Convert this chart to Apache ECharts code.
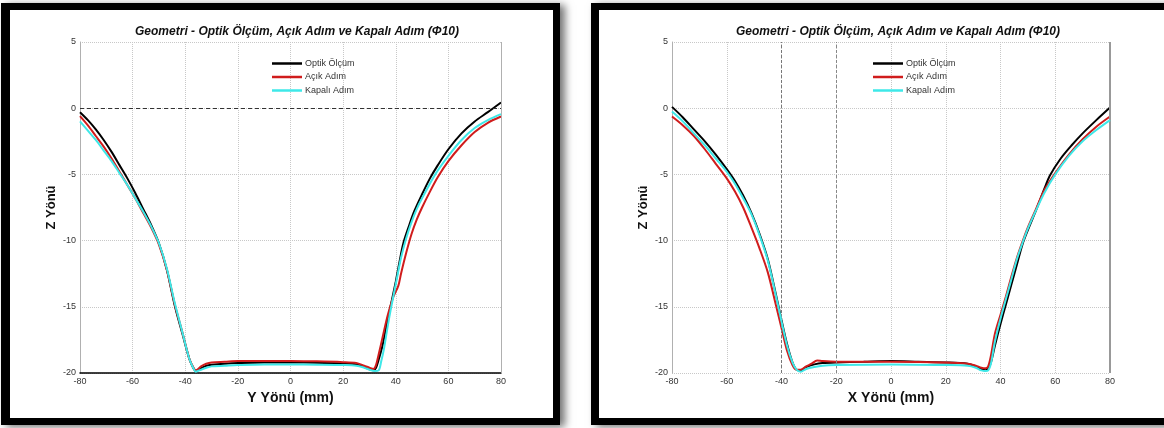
<!DOCTYPE html>
<html>
<head>
<meta charset="utf-8">
<script src="https://cdn.jsdelivr.net/npm/echarts@6/dist/echarts.min.js"></script>
<style>
html,body{margin:0;padding:0;background:#fff;}
#c{width:1164px;height:428px;}
</style>
</head>
<body>
<div id="c"></div>
<script>
// ---- data ----
const titleText = 'Geometri - Optik Ölçüm, Açık Adım ve Kapalı Adım (Φ10)';
const seriesNames = ['Optik Ölçüm', 'Açık Adım', 'Kapalı Adım'];
const xTicks = {min: -80, max: 80, step: 20};
const zTicks = {min: -20, max: 5, step: 5};

// Left panel: Y Yönü
const leftOptik = [[-80,-0.3],[-77,-0.9],[-74,-1.6],[-71,-2.4],[-68,-3.3],[-65,-4.3],[-62,-5.3],[-59,-6.4],[-56,-7.6],[-53,-8.8],[-50,-10.2],[-47,-12.2],[-44,-14.9],[-41,-17.1],[-38.5,-18.9],[-37,-19.6],[-36,-19.85],[-34,-19.65],[-32,-19.45],[-30,-19.38],[-25,-19.3],[-20,-19.25],[-10,-19.2],[0,-19.2],[10,-19.22],[20,-19.28],[25,-19.35],[28,-19.55],[30,-19.72],[31.5,-19.8],[32.5,-19.6],[33.5,-19.0],[35,-17.9],[36,-16.9],[38,-15.0],[40,-13.1],[42,-11.0],[43,-10.1],[45,-8.9],[47,-7.8],[50,-6.5],[53,-5.3],[56,-4.3],[60,-3.1],[65,-1.9],[70,-1.0],[75,-0.3],[80,0.43]];
const leftAcik = [[-80,-0.6],[-77,-1.3],[-74,-2.1],[-71,-2.9],[-68,-3.8],[-65,-4.8],[-62,-5.8],[-59,-6.8],[-56,-7.9],[-53,-9.0],[-50,-10.3],[-47,-12.2],[-44,-14.8],[-41,-17.0],[-38.5,-18.9],[-37,-19.55],[-36,-19.8],[-34,-19.5],[-32,-19.3],[-30,-19.2],[-25,-19.15],[-20,-19.1],[-10,-19.1],[0,-19.1],[10,-19.12],[20,-19.18],[25,-19.25],[28,-19.45],[30,-19.6],[31.5,-19.7],[32.5,-19.4],[33.5,-18.6],[35,-17.3],[37,-15.6],[39,-14.3],[41,-13.4],[42,-12.5],[44,-10.9],[46,-9.5],[48,-8.4],[50,-7.5],[53,-6.3],[56,-5.2],[60,-4.0],[65,-2.8],[70,-1.8],[75,-1.1],[80,-0.63]];
const leftKapali = [[-80,-1.0],[-77,-1.7],[-74,-2.4],[-71,-3.2],[-68,-4.0],[-65,-4.9],[-62,-5.8],[-59,-6.8],[-56,-7.8],[-53,-8.9],[-50,-10.2],[-47,-12.1],[-44,-14.7],[-41,-17.0],[-38.5,-18.9],[-37,-19.6],[-36,-19.9],[-34,-19.75],[-32,-19.6],[-30,-19.5],[-25,-19.45],[-20,-19.4],[-10,-19.35],[0,-19.35],[10,-19.37],[20,-19.4],[25,-19.45],[28,-19.6],[30,-19.75],[32,-19.85],[33.5,-19.8],[34.5,-19.1],[35.5,-18.2],[37,-16.4],[38,-15.3],[40,-13.3],[42,-11.3],[44,-9.8],[46,-8.6],[48,-7.6],[50,-6.8],[55,-5.0],[60,-3.6],[65,-2.4],[70,-1.5],[75,-0.9],[80,-0.45]];

// Right panel: X Yönü
const rightOptik = [[-80,0.1],[-76,-0.7],[-72,-1.6],[-68,-2.5],[-64,-3.5],[-60,-4.6],[-57,-5.5],[-54,-6.6],[-51,-7.9],[-48,-9.5],[-45,-11.4],[-42,-14.1],[-40,-16.0],[-38,-17.8],[-36,-19.2],[-34.5,-19.75],[-33,-19.8],[-31,-19.55],[-28,-19.35],[-25,-19.25],[-20,-19.2],[-10,-19.15],[0,-19.1],[10,-19.15],[20,-19.2],[28,-19.3],[31,-19.5],[33,-19.7],[34.5,-19.8],[35.5,-19.65],[36.5,-19.2],[38,-17.9],[40,-16.3],[42,-14.8],[44,-13.3],[46,-11.8],[48,-10.3],[50,-9.2],[53,-7.7],[56,-6.1],[58,-5.1],[62,-3.8],[66,-2.8],[70,-1.9],[75,-0.9],[80,0.05]];
const rightAcik = [[-80,-0.63],[-76,-1.3],[-72,-2.1],[-68,-3.1],[-64,-4.2],[-60,-5.3],[-57,-6.3],[-54,-7.5],[-51,-9.0],[-48,-10.6],[-45,-12.4],[-42,-14.9],[-40,-16.6],[-38,-18.3],[-36,-19.4],[-34.5,-19.75],[-33,-19.75],[-31,-19.5],[-29,-19.3],[-27,-19.05],[-25,-19.1],[-20,-19.15],[0,-19.15],[20,-19.2],[28,-19.3],[31,-19.45],[33,-19.6],[34.5,-19.65],[35.5,-19.5],[36.5,-18.7],[38,-17.0],[40,-15.6],[42,-14.2],[44,-12.7],[46,-11.3],[48,-10.1],[50,-9.0],[53,-7.6],[56,-6.2],[60,-4.9],[65,-3.5],[70,-2.35],[75,-1.4],[80,-0.63]];
const rightKapali = [[-80,-0.25],[-76,-1.0],[-72,-1.9],[-68,-2.8],[-64,-3.8],[-60,-4.8],[-57,-5.7],[-54,-6.8],[-51,-8.0],[-48,-9.6],[-45,-11.5],[-42,-14.2],[-40,-16.1],[-38,-17.9],[-36,-19.2],[-34.5,-19.75],[-33,-19.9],[-31,-19.7],[-28,-19.55],[-25,-19.45],[-20,-19.4],[0,-19.35],[20,-19.4],[28,-19.45],[31,-19.6],[33,-19.8],[34.5,-19.85],[35.5,-19.8],[36.5,-19.3],[38,-17.6],[40,-15.9],[42,-14.4],[44,-12.9],[46,-11.4],[48,-10.2],[50,-9.1],[53,-7.7],[56,-6.4],[60,-5.0],[65,-3.6],[70,-2.5],[75,-1.65],[80,-0.9]];

const colors = ['#000000', '#d01c1c', '#3ee8e8'];
const font = '"Liberation Sans", Arial, sans-serif';

function xAxisOf(gi, name, showLine) {
  return {
    gridIndex: gi, type: 'value', min: xTicks.min, max: xTicks.max, interval: xTicks.step,
    name: name, nameLocation: 'middle', nameGap: 13,
    nameTextStyle: {fontFamily: font, fontWeight: 'bold', fontSize: 14, color: '#111'},
    axisLine: {show: showLine, onZero: false, lineStyle: {color: '#000', width: 1.5}},
    axisTick: {show: false},
    axisLabel: {fontFamily: font, fontSize: 9, color: '#333', margin: 4},
    splitLine: {show: true, lineStyle: {color: '#c8c8c8', type: 'dotted', width: 1}}
  };
}
function yAxisOf(gi, gap) {
  return {
    gridIndex: gi, type: 'value', min: zTicks.min, max: zTicks.max, interval: zTicks.step,
    name: 'Z Yönü', nameLocation: 'middle', nameRotate: 90, nameGap: gap,
    nameTextStyle: {fontFamily: font, fontWeight: 'bold', fontSize: 13, color: '#111'},
    axisLine: {show: true, onZero: false, lineStyle: {color: '#b0b0b0', width: 1}},
    axisTick: {show: false},
    axisLabel: {fontFamily: font, fontSize: 9, color: '#333', margin: 4},
    splitLine: {show: true, lineStyle: {color: '#c8c8c8', type: 'dotted', width: 1}}
  };
}
function lineSeries(name, data, gi, idx, markLines) {
  const s = {
    name: name, type: 'line', xAxisIndex: gi, yAxisIndex: gi, data: data,
    symbol: 'none', showSymbol: false, smooth: 0.3, lineStyle: {color: colors[idx], width: 2},
    itemStyle: {color: colors[idx]}, z: 3 + idx, silent: true
  };
  if (markLines) {
    s.markLine = {silent: true, symbol: 'none', label: {show: false}, animation: false, data: markLines};
  }
  return s;
}
function legendOf(left) {
  return {
    orient: 'vertical', left: left, top: 53, icon: 'rect', itemWidth: 30, itemHeight: 2.5, itemGap: 2.5,
    data: seriesNames, selectedMode: false,
    textStyle: {fontFamily: font, fontSize: 9, lineHeight: 11, color: '#333', padding: [0, 0, 0, -2]}
  };
}

const option = {
  animation: false,
  backgroundColor: '#fff',
  graphic: [
    {type: 'rect', z: -20, shape: {x: 1, y: 3, width: 559, height: 422}, style: {fill: '#000', shadowBlur: 8, shadowOffsetX: 5, shadowOffsetY: 2, shadowColor: 'rgba(0,0,0,0.55)'}},
    {type: 'rect', z: -19, shape: {x: 10, y: 10, width: 543, height: 408}, style: {fill: '#fff'}},
    {type: 'rect', z: -20, shape: {x: 591, y: 3, width: 590, height: 422}, style: {fill: '#000', shadowBlur: 8, shadowOffsetX: 5, shadowOffsetY: 2, shadowColor: 'rgba(0,0,0,0.55)'}},
    {type: 'rect', z: -19, shape: {x: 599, y: 10, width: 570, height: 408}, style: {fill: '#fff'}}
  ],
  title: [
    {text: titleText, left: 292, top: 21, textAlign: 'center', textStyle: {fontFamily: font, fontSize: 12, fontWeight: 'bold', fontStyle: 'italic', color: '#111'}},
    {text: titleText, left: 893, top: 21, textAlign: 'center', textStyle: {fontFamily: font, fontSize: 12, fontWeight: 'bold', fontStyle: 'italic', color: '#111'}}
  ],
  legend: [legendOf(267), legendOf(868)],
  grid: [
    {left: 80, right: 1164 - 501, top: 42, bottom: 428 - 373},
    {left: 672, right: 1164 - 1110, top: 42, bottom: 428 - 373}
  ],
  xAxis: [xAxisOf(0, 'Y Yönü (mm)', true), xAxisOf(1, 'X Yönü (mm)', false)],
  yAxis: [yAxisOf(0, 22), yAxisOf(1, 22)],
  series: [
    lineSeries(seriesNames[0], leftOptik, 0, 0, [
      {yAxis: 0, lineStyle: {type: [4, 3], color: '#333', width: 1}},
      {xAxis: 80, lineStyle: {type: 'solid', color: '#b0b0b0', width: 1}}
    ]),
    lineSeries(seriesNames[1], leftAcik, 0, 1),
    lineSeries(seriesNames[2], leftKapali, 0, 2),
    lineSeries(seriesNames[0], rightOptik, 1, 0, [
      {xAxis: -40, lineStyle: {type: [3, 2], color: '#777', width: 1}},
      {xAxis: -20, lineStyle: {type: [3, 2], color: '#888', width: 1}},
      {xAxis: 80, lineStyle: {type: 'solid', color: '#999', width: 2}}
    ]),
    lineSeries(seriesNames[1], rightAcik, 1, 1),
    lineSeries(seriesNames[2], rightKapali, 1, 2)
  ]
};
const chart = echarts.init(document.getElementById('c'), null, {renderer: 'canvas'});
chart.setOption(option);
</script>
</body>
</html>
